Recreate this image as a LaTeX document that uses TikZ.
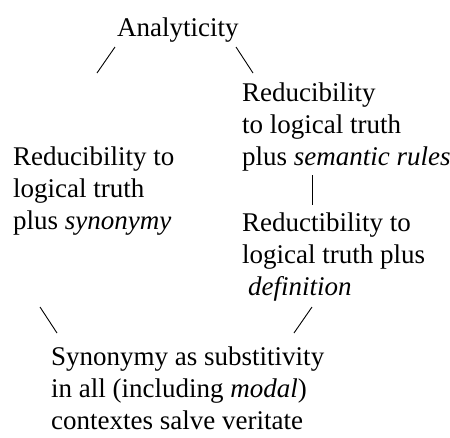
\documentclass[tikz,border=0pt]{standalone}
\usepackage{fontspec}
\setmainfont{Liberation Serif}
\tikzset{label text/.style={inner sep=0pt, align=left, anchor=base west,
    font=\fontsize{27}{32}\selectfont}}

\begin{document}
\begin{tikzpicture}[x=1pt,y=-1pt]
        \useasboundingbox (0,0) rectangle (450,437);
        %
        \node[label text] (ana) at (117,36) {Analyticity};
        \node[label text] (sem) at (242,165) {Reducibility\\to logical truth\\plus \textit{semantic rules}};
        \node[label text] (syn) at (13,229) {Reducibility to\\logical truth\\plus \textit{synonymy}};
        \node[label text] (def) at (242,295) {Reductibility to\\logical truth plus\\\hspace{6pt}\textit{definition}};
        \node[label text] (sub) at (51,429) {Synonymy as substitivity\\in all (including \textit{modal})\\contextes salve veritate};
        %
        \coordinate (A1) at (115,47);
        \coordinate (A2) at (97,73);
        \coordinate (B1) at (236,47);
        \coordinate (B2) at (253,73);
        \coordinate (C1) at (312,175);
        \coordinate (C2) at (312,205);
        \coordinate (D1) at (40,307);
        \coordinate (D2) at (57,333);
        \coordinate (E1) at (312,307);
        \coordinate (E2) at (294,333);
        %
        \draw[line width=0.9pt] (A1) -- (A2);
        \draw[line width=0.9pt] (B1) -- (B2);
        \draw[line width=0.9pt] (C1) -- (C2);
        \draw[line width=0.9pt] (D1) -- (D2);
        \draw[line width=0.9pt] (E1) -- (E2);
    \end{tikzpicture}
\end{document}
